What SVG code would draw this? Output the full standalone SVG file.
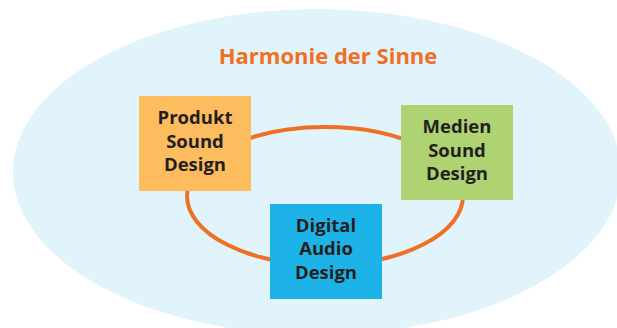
<svg xmlns="http://www.w3.org/2000/svg" width="617" height="328" viewBox="0 0 617 328">
<style>
.lbl{font-family:"Open Sans","DejaVu Sans",sans-serif;font-weight:bold;font-size:18.5px;fill:#231F20;text-anchor:middle}
.title{font-family:"Open Sans","DejaVu Sans",sans-serif;font-weight:bold;font-size:22px;fill:#F07023;text-anchor:middle}
</style>
<rect width="617" height="328" fill="#FFFFFF"/>
<ellipse cx="317" cy="172" rx="304" ry="163" fill="#E1F3FB"/>
<text class="title" x="328" y="64">Harmonie der Sinne</text>
<g id="connectors">
<ellipse cx="325" cy="196" rx="138" ry="69" fill="none" stroke="#F07023" stroke-width="4"/>
</g>
<g id="produkt">
<rect x="139" y="96" width="112" height="95" fill="#FDBD5F"/>
<text class="lbl" x="195" y="124">Produkt</text>
<text class="lbl" x="195" y="148">Sound</text>
<text class="lbl" x="195" y="171">Design</text>
</g>
<g id="medien">
<rect x="401" y="105" width="112" height="95" fill="#AFD373"/>
<text class="lbl" x="457" y="133">Medien</text>
<text class="lbl" x="457" y="157">Sound</text>
<text class="lbl" x="457" y="180">Design</text>
</g>
<g id="digital">
<rect x="270" y="204" width="112" height="95" fill="#1DB2E8"/>
<text class="lbl" x="326" y="232">Digital</text>
<text class="lbl" x="326" y="255">Audio</text>
<text class="lbl" x="326" y="279">Design</text>
</g>
</svg>
